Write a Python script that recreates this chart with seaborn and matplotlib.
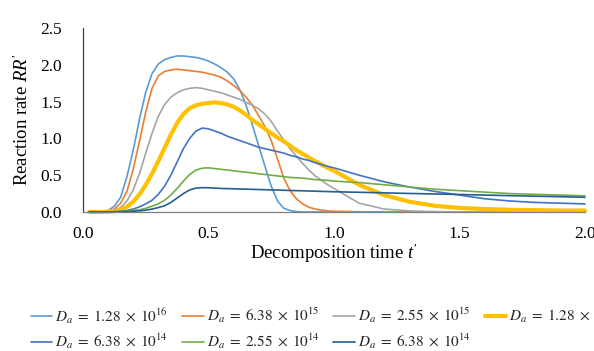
import numpy as np
import pandas as pd

import matplotlib
matplotlib.use("Agg")
import matplotlib.pyplot as plt
import seaborn as sns


# -----------------------
# Data
# -----------------------
T = [0.025, 0.05, 0.075, 0.1, 0.125, 0.15, 0.175, 0.2, 0.225, 0.25,
     0.275, 0.3, 0.325, 0.35, 0.375, 0.4, 0.425, 0.45, 0.475, 0.5,
     0.525, 0.55, 0.575, 0.6, 0.625, 0.65, 0.675, 0.7, 0.725, 0.75,
     0.775, 0.8, 0.825, 0.85, 0.875, 0.9, 0.925, 0.95, 0.975, 1.0,
     1.1, 1.2, 1.3, 1.4, 1.5, 1.6, 1.7, 1.8, 1.9, 2.0]

RR_1P28E16 = [0, 0, 0.005, 0.02, 0.08, 0.2, 0.48, 0.84, 1.26, 1.63,
              1.88, 2.01, 2.07, 2.1, 2.12, 2.12, 2.11, 2.1, 2.08, 2.05,
              2.01, 1.96, 1.9, 1.81, 1.66, 1.45, 1.18, 0.9, 0.62, 0.35,
              0.15, 0.05, 0.02, 0.005, 0, 0, 0, 0, 0, 0,
              0, 0, 0, 0, 0, 0, 0, 0, 0, 0]

RR_6P38E15 = [0, 0, 0.003, 0.01, 0.04, 0.12, 0.28, 0.58, 0.96, 1.36,
              1.68, 1.85, 1.91, 1.93, 1.94, 1.93, 1.92, 1.91, 1.9, 1.88,
              1.86, 1.83, 1.78, 1.72, 1.65, 1.56, 1.45, 1.31, 1.16, 0.97,
              0.72, 0.46, 0.29, 0.18, 0.11, 0.065, 0.04, 0.025, 0.015, 0.01,
              0.003, 0, 0, 0, 0, 0, 0, 0, 0, 0]

RR_2P55E15 = [0, 0, 0, 0.005, 0.02, 0.06, 0.15, 0.3, 0.52, 0.8,
              1.07, 1.3, 1.46, 1.56, 1.62, 1.66, 1.68, 1.69, 1.68, 1.66,
              1.64, 1.62, 1.59, 1.56, 1.53, 1.49, 1.45, 1.4, 1.33, 1.23,
              1.1, 0.98, 0.86, 0.76, 0.66, 0.57, 0.49, 0.43, 0.37, 0.32,
              0.12, 0.04, 0.015, 0.005, 0, 0, 0, 0, 0, 0]

RR_1P28E15 = [0, 0, 0, 0.005, 0.01, 0.03, 0.07, 0.14, 0.24, 0.37,
              0.52, 0.69, 0.87, 1.05, 1.21, 1.33, 1.41, 1.45, 1.47, 1.48,
              1.49, 1.48, 1.46, 1.43, 1.38, 1.32, 1.25, 1.19, 1.13, 1.07,
              1.01, 0.96, 0.9, 0.84, 0.79, 0.74, 0.69, 0.645, 0.6, 0.56,
              0.37, 0.23, 0.14, 0.085, 0.055, 0.04, 0.03, 0.025, 0.02, 0.02]

RR_6P38E14 = [0, 0, 0, 0, 0.005, 0.01, 0.02, 0.04, 0.07, 0.11,
              0.16, 0.24, 0.35, 0.5, 0.68, 0.86, 1.0, 1.1, 1.14, 1.13,
              1.1, 1.07, 1.03, 1.0, 0.97, 0.94, 0.91, 0.88, 0.86, 0.84,
              0.82, 0.8, 0.77, 0.75, 0.72, 0.7, 0.67, 0.645, 0.62, 0.6,
              0.5, 0.41, 0.34, 0.28, 0.23, 0.18, 0.15, 0.13, 0.12, 0.11]

RR_2P55E14 = [0, 0, 0, 0, 0, 0.005, 0.01, 0.02, 0.03, 0.05,
              0.08, 0.11, 0.16, 0.23, 0.32, 0.42, 0.51, 0.57, 0.595, 0.6,
              0.59, 0.58, 0.57, 0.56, 0.55, 0.54, 0.53, 0.52, 0.51, 0.5,
              0.49, 0.48, 0.47, 0.465, 0.46, 0.45, 0.44, 0.435, 0.43, 0.42,
              0.4, 0.37, 0.34, 0.31, 0.29, 0.27, 0.25, 0.24, 0.23, 0.22]

RR_6P38E14_B = [0, 0, 0, 0, 0, 0, 0.005, 0.01, 0.015, 0.025,
                0.04, 0.06, 0.085, 0.13, 0.19, 0.25, 0.3, 0.325, 0.33, 0.33,
                0.325, 0.32, 0.318, 0.315, 0.313, 0.31, 0.308, 0.305, 0.303, 0.3,
                0.298, 0.295, 0.293, 0.29, 0.288, 0.285, 0.283, 0.28, 0.278, 0.275,
                0.268, 0.26, 0.252, 0.245, 0.238, 0.23, 0.222, 0.215, 0.208, 0.2]

LABELS = [
    r"$D_a\;=\;1.28\;\times\;10^{16}$",
    r"$D_a\;=\;6.38\;\times\;10^{15}$",
    r"$D_a\;=\;2.55\;\times\;10^{15}$",
    r"$D_a\;=\;1.28\;\times\;10^{15}$",
    r"$D_a\;=\;6.38\;\times\;10^{14}$",
    r"$D_a\;=\;2.55\;\times\;10^{14}$",
    r"$D_a\;=\;6.38\;\times\;10^{14}$",
]
SERIES = [RR_1P28E16, RR_6P38E15, RR_2P55E15, RR_1P28E15,
          RR_6P38E14, RR_2P55E14, RR_6P38E14_B]
COLORS = ["#5B9BD5", "#ED7D31", "#A5A5A5", "#FFC000",
          "#4472C4", "#70AD47", "#255E91"]
WIDTHS = [1.2, 1.2, 1.2, 3.0, 1.2, 1.2, 1.2]

X_TICKS = [0.0, 0.5, 1.0, 1.5, 2.0]
Y_TICKS = [0.0, 0.5, 1.0, 1.5, 2.0, 2.5]


# -----------------------
# Style
# -----------------------
sns.set_theme(style="white")
plt.rcParams["font.family"] = ["Liberation Serif", "DejaVu Serif"]
plt.rcParams["mathtext.fontset"] = "custom"
plt.rcParams["mathtext.rm"] = "Liberation Serif"
plt.rcParams["mathtext.it"] = "Liberation Serif:italic"

W, H = 594, 351
fig = plt.figure(figsize=(W / 100, H / 100), dpi=100)
ax = fig.add_axes([83 / W, 1 - 212 / H, (585 - 83) / W, (212 - 28) / H])

handles = []
for vals, lab, col, lw in zip(SERIES, LABELS, COLORS, WIDTHS):
    df = pd.DataFrame({"t": T, "rr": vals})
    sns.lineplot(data=df, x="t", y="rr", ax=ax, color=col, linewidth=lw,
                 label=lab, legend=False, clip_on=False)
    handles.append(ax.get_lines()[-1])

ax.set_xlim(0, 2.0)
ax.set_ylim(0, 2.5)
ax.set_xticks(X_TICKS)
ax.set_yticks(Y_TICKS)
ax.set_xticklabels([f"{v:.1f}" for v in X_TICKS])
ax.set_yticklabels([f"{v:.1f}" for v in Y_TICKS])
ax.tick_params(axis="both", length=0, labelsize=12.5, colors="#000000")
ax.tick_params(axis="x", pad=10)
ax.tick_params(axis="y", pad=15)

for side in ["top", "right"]:
    ax.spines[side].set_visible(False)
ax.spines["left"].set_color("#404040")
ax.spines["bottom"].set_color("#7f7f7f")
ax.spines["left"].set_linewidth(0.9)
ax.spines["bottom"].set_linewidth(0.9)

ax.set_xlabel("Decomposition time $t'$", fontsize=13.5, labelpad=0, color="#000000")
ax.set_ylabel("Reaction rate $RR'$", fontsize=13.5, labelpad=6, color="#000000")

# row-major legend order: matplotlib fills columns first
order = [0, 4, 1, 5, 2, 6, 3]
fig.legend([handles[i] for i in order], [LABELS[i] for i in order],
           loc="upper left", bbox_to_anchor=(31 / W, 1 - 306 / H),
           ncol=4, frameon=False,
           prop={"family": "Liberation Serif", "size": 11, "math_fontfamily": "stix"},
           handlelength=1.4, handletextpad=0.2, columnspacing=0.9,
           labelspacing=0.4, borderpad=0, borderaxespad=0)

fig.savefig("out.png", dpi=100)
